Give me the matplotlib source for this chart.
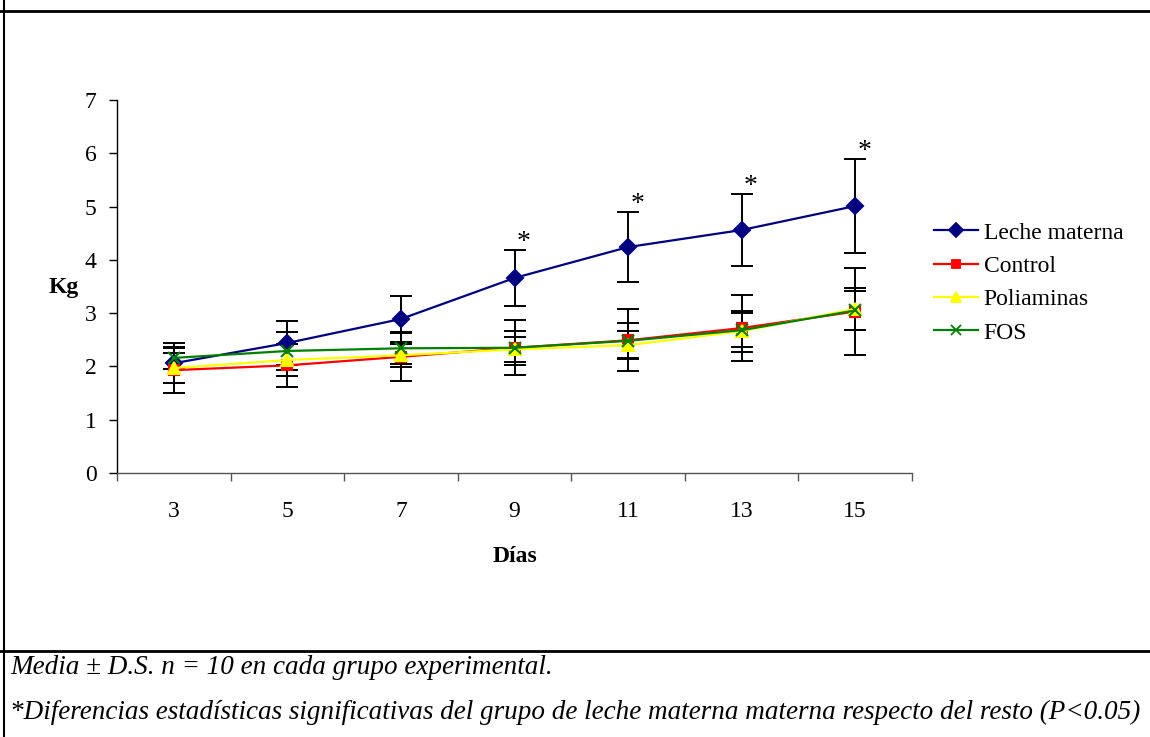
import numpy as np
import matplotlib
matplotlib.use("Agg")
import matplotlib.pyplot as plt
from matplotlib.lines import Line2D

plt.rcParams['font.family'] = ['Liberation Serif', 'DejaVu Serif']

dias = ['3', '5', '7', '9', '11', '13', '15']

leche = [2.06, 2.44, 2.89, 3.66, 4.24, 4.56, 5.01]
leche_sd = [0.38, 0.41, 0.43, 0.52, 0.66, 0.67, 0.88]

control = [1.93, 2.02, 2.18, 2.35, 2.49, 2.72, 3.03]
control_sd = [0.42, 0.41, 0.45, 0.52, 0.58, 0.62, 0.81]

poliaminas = [1.97, 2.12, 2.21, 2.32, 2.40, 2.66, 3.08]
poliaminas_sd = [0.28, 0.30, 0.22, 0.24, 0.26, 0.38, 0.40]

fos = [2.16, 2.29, 2.34, 2.35, 2.48, 2.68, 3.05]
fos_sd = [0.20, 0.36, 0.30, 0.32, 0.33, 0.32, 0.37]

# puntos con diferencia significativa (leche materna)
signif = [3, 4, 5, 6]

series = [
    ('Leche materna', leche, leche_sd, '#000080', 'D', 8),
    ('Control', control, control_sd, '#FF0000', 's', 7),
    ('Poliaminas', poliaminas, poliaminas_sd, '#FFFF00', '^', 8),
    ('FOS', fos, fos_sd, '#008000', 'x', 8),
]

fig = plt.figure(figsize=(11.5, 7.37), dpi=100)
ax = fig.add_axes([117 / 1150, 1 - 473 / 737, (912 - 117) / 1150, (473 - 100) / 737])

x = np.arange(len(dias))

# barras de error primero
for nombre, vals, sd, col, mk, ms in series:
    ax.errorbar(x, vals, yerr=sd, fmt='none', ecolor='black', elinewidth=1.4,
                capsize=8, capthick=1.4, zorder=2)

handles = []
for nombre, vals, sd, col, mk, ms in series:
    ax.plot(x, vals, color=col, lw=1.6, marker=mk, markersize=ms,
            markerfacecolor=col, markeredgecolor=col, markeredgewidth=1.5, zorder=3)
    handles.append(Line2D([], [], color=col, lw=1.6, marker=mk, markersize=ms - 1,
                          markerfacecolor=col, markeredgecolor=col, markeredgewidth=1.3,
                          label=nombre))

for i in signif:
    ax.text(x[i] + 0.08, leche[i] + leche_sd[i] + 0.02, '*', ha='center', va='baseline',
            fontsize=20)

ax.set_xlim(-0.5, len(dias) - 0.5)
ax.set_ylim(0, 7)
ax.set_yticks(range(0, 8))
ax.set_xticks(np.arange(-0.5, len(dias), 1.0))
ax.set_xticklabels([])
ax.set_xticks(x, minor=True)
ax.set_xticklabels(dias, minor=True)
ax.tick_params(axis='x', which='major', direction='out', length=5.5, width=1, color='#555555')
ax.tick_params(axis='x', which='minor', length=0, pad=20.5, labelsize=17)
ax.tick_params(axis='y', direction='out', length=5.8, width=1, pad=9, labelsize=17)

for s in ['top', 'right']:
    ax.spines[s].set_visible(False)
ax.spines['bottom'].set_color('#555555')
ax.spines['left'].set_linewidth(1)
ax.spines['bottom'].set_linewidth(1)

fig.text(64 / 1150, 1 - 287 / 737, 'Kg', ha='center', va='center', fontsize=17, fontweight='bold')
fig.text(515 / 1150, 1 - 557 / 737, 'Días', ha='center', va='center', fontsize=17, fontweight='bold')

fig.legend(handles=handles, loc='center left', bbox_to_anchor=(934 / 1150, 1 - 283 / 737),
           frameon=False, fontsize=17, handlelength=1.85, handletextpad=0.25,
           labelspacing=0.5, borderpad=0, borderaxespad=0)

# marco del cuadro
fig.add_artist(Line2D([0, 1], [1 - 11 / 737, 1 - 11 / 737], color='black', lw=2))
fig.add_artist(Line2D([0, 1], [1 - 651 / 737, 1 - 651 / 737], color='black', lw=2))
fig.add_artist(Line2D([4 / 1150, 4 / 1150], [0, 1], color='black', lw=1.5))

fig.text(10 / 1150, 1 - 668 / 737, 'Media ± D.S. n = 10 en cada grupo experimental.',
         ha='left', va='center', fontsize=19.5, style='italic')
fig.text(10 / 1150, 1 - 712 / 737,
         '*Diferencias estadísticas significativas del grupo de leche materna materna respecto del resto (P<0.05)',
         ha='left', va='center', fontsize=19.5, style='italic')

fig.savefig('out.png', dpi=100)
